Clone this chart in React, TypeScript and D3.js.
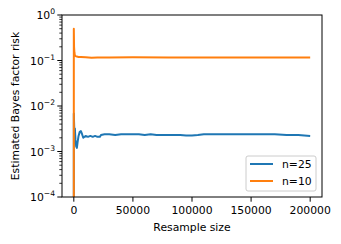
import React from 'react';
import * as d3 from 'd3';

const seriesNames = ['n=25', 'n=10'];
const seriesColors = ['#1f77b4', '#ff7f0e'];

// n=25 (blue)
const blueX = [0, 0, 200, 500, 900, 1400, 2000, 2600, 3200, 4000, 5000, 6000, 7000, 8000, 9000, 10000, 12000, 14000, 16000, 18000, 20000, 22000, 23000, 26000, 30000, 35000, 40000, 45000, 50000, 55000, 60000, 65000, 70000, 75000, 80000, 85000, 90000, 95000, 100000, 105000, 110000, 120000, 130000, 140000, 150000, 160000, 170000, 180000, 190000, 200000];
const blueY = [0.00001, 0.0068, 0.0045, 0.0025, 0.0032, 0.0018, 0.0013, 0.0012, 0.0016, 0.0022, 0.0027, 0.0028, 0.0024, 0.0020, 0.0021, 0.0022, 0.0021, 0.0022, 0.0021, 0.0022, 0.0021, 0.0021, 0.0023, 0.0024, 0.0024, 0.0023, 0.0024, 0.0024, 0.0024, 0.0024, 0.0023, 0.0024, 0.0023, 0.0023, 0.0023, 0.0023, 0.0023, 0.00225, 0.00225, 0.0023, 0.0024, 0.0024, 0.0024, 0.0024, 0.0024, 0.0024, 0.0024, 0.0023, 0.0023, 0.0022];

// n=10 (orange)
const orangeX = [0, 0, 200, 500, 900, 1500, 2500, 4000, 6000, 10000, 15000, 20000, 30000, 50000, 80000, 100000, 130000, 160000, 200000];
const orangeY = [0.00001, 0.5, 0.2, 0.15, 0.13, 0.125, 0.122, 0.12, 0.12, 0.118, 0.115, 0.117, 0.116, 0.118, 0.117, 0.117, 0.117, 0.117, 0.117];

const xTicks = [0, 50000, 100000, 150000, 200000];
const yTickExps = [-4, -3, -2, -1, 0];

const W = 341;
const H = 244;
const m = { left: 62, right: 19, top: 15, bottom: 47 };

export default function App() {
  const x = d3.scaleLinear().domain([-10000, 210000]).range([m.left, W - m.right]);
  const y = d3.scaleLog().domain([1e-4, 1]).range([H - m.bottom, m.top]);

  const line = d3.line<[number, number]>()
    .x(d => x(d[0]))
    .y(d => y(d[1]));

  const blue = blueX.map((v, i) => [v, blueY[i]] as [number, number]);
  const orange = orangeX.map((v, i) => [v, orangeY[i]] as [number, number]);

  const minor: number[] = [];
  for (let e = -4; e < 0; e++) {
    for (let k = 2; k <= 9; k++) minor.push(k * Math.pow(10, e));
  }

  const fs = 10.8;
  const font = 'DejaVu Sans';
  const x0 = m.left, x1 = W - m.right, y0 = H - m.bottom, y1 = m.top;

  // legend
  const lx = 246, ly = 156, lw = 70, lh = 35;

  return (
    <svg width={W} height={H} style={{ position: 'absolute', left: 0, top: 0, background: '#fff' }} fontFamily={font}>
      <defs>
        <clipPath id="plot">
          <rect x={x0} y={y1} width={x1 - x0} height={y0 - y1} />
        </clipPath>
      </defs>
      <g clipPath="url(#plot)">
        <path d={line(blue) || ''} fill="none" stroke={seriesColors[0]} strokeWidth={2} strokeLinejoin="round" />
        <path d={line(orange) || ''} fill="none" stroke={seriesColors[1]} strokeWidth={2} strokeLinejoin="round" />
      </g>

      {/* y minor ticks */}
      {minor.map(v => (
        <line key={v} x1={x0} x2={x0 - 2.7} y1={y(v)} y2={y(v)} stroke="#000" strokeWidth={0.8} />
      ))}
      {/* y major ticks */}
      {yTickExps.map(e => {
        const yy = y(Math.pow(10, e));
        return (
          <g key={e}>
            <line x1={x0} x2={x0 - 4.7} y1={yy} y2={yy} stroke="#000" strokeWidth={1} />
            <text x={x0 - 7} y={yy + 4} textAnchor="end" fontSize={fs}>
              10<tspan dy={-5} fontSize={7.6}>{e === 0 ? '0' : '\u2212' + Math.abs(e)}</tspan>
            </text>
          </g>
        );
      })}
      {/* x ticks */}
      {xTicks.map(t => (
        <g key={t}>
          <line x1={x(t)} x2={x(t)} y1={y0} y2={y0 + 4.7} stroke="#000" strokeWidth={1} />
          <text x={x(t)} y={y0 + 17} textAnchor="middle" fontSize={fs}>{t}</text>
        </g>
      ))}

      <rect x={x0} y={y1} width={x1 - x0} height={y0 - y1} fill="none" stroke="#000" strokeWidth={1} />

      <text x={(x0 + x1) / 2} y={231} textAnchor="middle" fontSize={fs}>Resample size</text>
      <text transform={`translate(19,${(y0 + y1) / 2}) rotate(-90)`} textAnchor="middle" fontSize={fs}>Estimated Bayes factor risk</text>

      <rect x={lx} y={ly} width={lw} height={lh} rx={2} fill="#fff" fillOpacity={0.8} stroke="#ccc" strokeWidth={1} />
      {seriesNames.map((n, i) => (
        <g key={n}>
          <line x1={lx + 4} x2={lx + 27} y1={ly + 8 + i * 17} y2={ly + 8 + i * 17} stroke={seriesColors[i]} strokeWidth={2} />
          <text x={lx + 36} y={ly + 12 + i * 17} fontSize={fs}>{n}</text>
        </g>
      ))}
    </svg>
  );
}
